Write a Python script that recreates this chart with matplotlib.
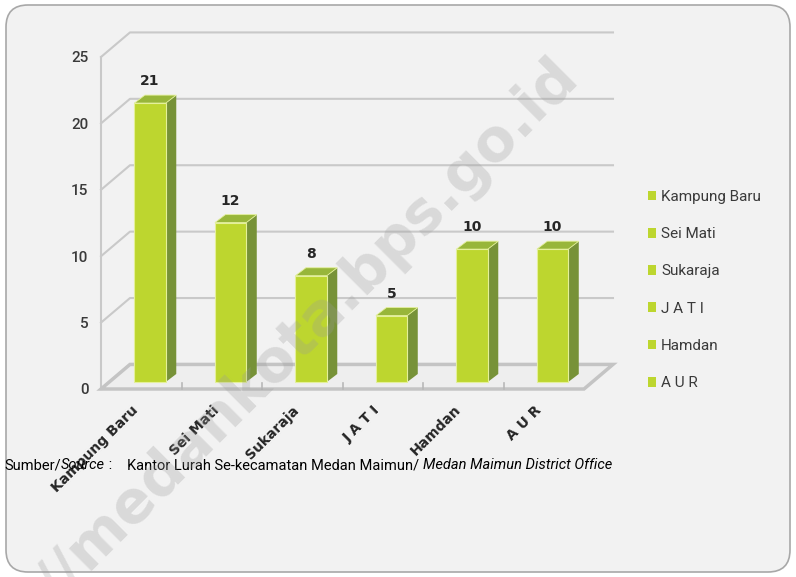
import numpy as np
import matplotlib
matplotlib.use("Agg")
import matplotlib.pyplot as plt
from matplotlib.patches import Polygon, FancyBboxPatch
from matplotlib.transforms import IdentityTransform

# Data
categories = ["Kampung Baru", "Sei Mati", "Sukaraja", "J A T I", "Hamdan", "A U R"]
values = [21, 12, 8, 5, 10, 10]
yticks = [0, 5, 10, 15, 20, 25]

# Colours
front_col = "#bdd62f"
side_col = "#779238"
top_col = "#98b63a"
grid_col = "#c9c9c9"
text_col = "#3a3a3a"

# 3D look (data units)
wall_dx, wall_dy = 0.36, 1.85     # depth of back wall
bar_ox, bar_oy = 0.11, 0.53       # bar plane offset
bar_w = 0.39
side_dx, side_dy = 0.13, 0.6

fig = plt.figure(figsize=(7.96, 5.77), dpi=100)
fig.patch.set_facecolor("white")

# Rounded panel behind everything
panel = FancyBboxPatch((6, 5), 784, 567, boxstyle="round,pad=0,rounding_size=22",
                       transform=IdentityTransform(), facecolor="#f2f2f2",
                       edgecolor="#a8a8a8", linewidth=1.2, zorder=-5)
fig.patches.append(panel)

ax = fig.add_axes([101 / 796, 188 / 577, 483 / 796, 332 / 577])
ax.set_zorder(1)
ax.set_facecolor("none")
ax.set_xlim(-0.5, len(categories) - 0.5)
ax.set_ylim(0, 25)
for s in ax.spines.values():
    s.set_visible(False)

x0, x1 = -0.5, len(categories) - 0.5

# Back wall + left wall grid
for v in yticks:
    ax.plot([x0, x0 + wall_dx, x1 + wall_dx], [v, v + wall_dy, v + wall_dy],
            color=grid_col, lw=1.5, clip_on=False, zorder=1)
ax.plot([x0, x0], [0, yticks[-1]], color=grid_col, lw=1.5, clip_on=False, zorder=1)

# Floor
floor = Polygon([[x0, 0], [x1, 0], [x1 + wall_dx, wall_dy], [x0 + wall_dx, wall_dy]],
                closed=True, facecolor="#eeeeee", edgecolor="#c4c4c4", lw=2.5,
                clip_on=False, zorder=1.5)
ax.add_patch(floor)
for k in range(1, len(categories)):
    ax.plot([k - 0.5, k - 0.5], [0, 0.45], color="#b8b8b8", lw=1.2, clip_on=False, zorder=1.6)

# Bars
xpos = np.arange(len(categories))
bars = ax.bar(xpos + bar_ox, values, width=bar_w, bottom=bar_oy, color=front_col,
              edgecolor="#e4f09a", linewidth=0.8, zorder=3)
for rect, v in zip(bars, values):
    xl = rect.get_x()
    xr = xl + rect.get_width()
    yb = rect.get_y()
    yt = yb + rect.get_height()
    side = Polygon([[xr, yb], [xr + side_dx, yb + side_dy], [xr + side_dx, yt + side_dy], [xr, yt]],
                   closed=True, facecolor=side_col, edgecolor="none", zorder=2.5, clip_on=False)
    top = Polygon([[xl, yt], [xr, yt], [xr + side_dx, yt + side_dy], [xl + side_dx, yt + side_dy]],
                  closed=True, facecolor=top_col, edgecolor="#e4f09a", lw=0.6, zorder=2.6, clip_on=False)
    ax.add_patch(side)
    ax.add_patch(top)
    ax.annotate(str(v), (xl + (xr - xl) / 2, yt + side_dy),
                xytext=(0, 5), textcoords="offset points", ha="center", va="bottom",
                fontsize=10, fontweight="bold", color="#262626", zorder=5)

# Axis ticks
ax.set_yticks(yticks)
ax.set_yticklabels([str(t) for t in yticks], fontsize=11, color=text_col,
                   family="Roboto", fontweight="medium")
ax.set_xticks(xpos)
ax.set_xticklabels(categories, rotation=45, ha="right", fontsize=10,
                   fontweight="bold", color="#262626")
ax.tick_params(axis="both", length=0)
ax.tick_params(axis="y", pad=9)
ax.tick_params(axis="x", pad=10)

# Legend
leg = ax.legend(list(bars), categories, loc="upper left",
                bbox_to_anchor=(648 / 796, 387 / 577), bbox_transform=fig.transFigure,
                frameon=False, handlelength=0.5, handleheight=0.6, handletextpad=0.35,
                labelspacing=1.52, borderpad=0, borderaxespad=0,
                prop={"family": "Roboto", "size": 11})
for t in leg.get_texts():
    t.set_color(text_col)
for h in leg.legend_handles:
    h.set_edgecolor("none")

# Source line
src_font = ["Roboto", "DejaVu Sans"]
fig.canvas.draw()
renderer = fig.canvas.get_renderer()
ys = 112 / 577


def put(x, s, style="normal"):
    t = fig.text(x, ys, s, ha="left", va="center", fontsize=10.5, family=src_font,
                 style=style, color="black", zorder=4)
    bb = t.get_window_extent(renderer=renderer)
    return bb.x1 / fig.bbox.width


xx = put(4 / 796, "Sumber/")
xx = put(xx, "Source", "italic")
put(xx, " :")
xx = put(127 / 796, "Kantor Lurah Se-kecamatan Medan Maimun/ ")
put(xx, "Medan Maimun District Office", "italic")

# Watermark
fig.text(0.387, 0.425, "//medankota.bps.go.id", rotation=45, ha="center", va="center",
         fontsize=42, fontweight="bold", color="#9a9a9a", alpha=0.28, zorder=10)

fig.savefig("out.png", dpi=100, facecolor="white")
